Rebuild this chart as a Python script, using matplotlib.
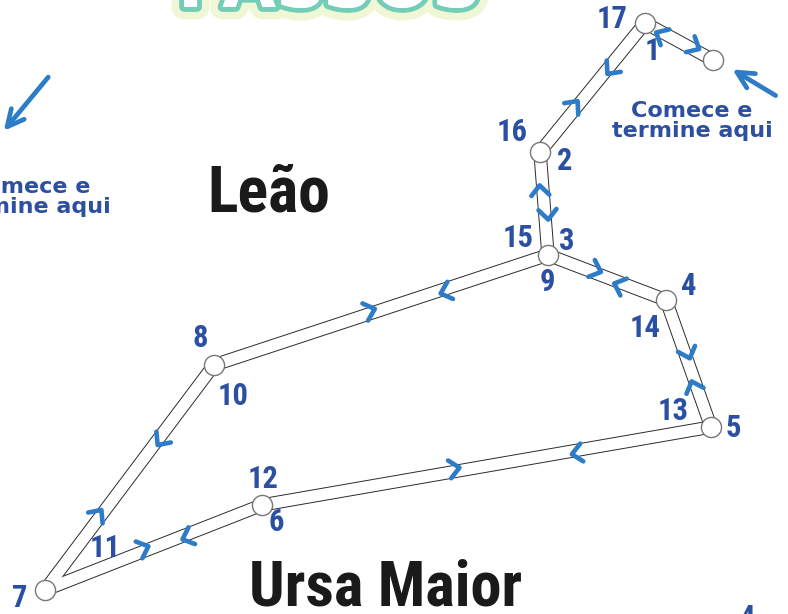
import matplotlib.pyplot as plt
import matplotlib.patheffects as pe
from matplotlib import font_manager
import numpy as np

# pontos da constelação (coordenadas em pixels da imagem, y para baixo)
nos_x = [713, 645, 540, 548, 666, 711, 262, 45, 214]
nos_y = [60, 23, 152, 255, 300, 427, 505, 590, 365]

# arestas do caminho: (origem, destino, posição seta ida, posição seta volta)
arestas = [(0, 1, 0.75, 0.29), (1, 2, 0.35, 0.65), (2, 3, 0.61, 0.37),
           (3, 4, 0.40, 0.61), (4, 5, 0.43, 0.67), (5, 6, 0.30, 0.57),
           (6, 7, 0.35, 0.54), (7, 8, 0.33, 0.67), (8, 3, 0.47, 0.69)]

# rótulos numéricos e posição
rotulos = ['17', '1', '16', '2', '15', '3', '9', '4', '14', '13', '5',
           '8', '10', '12', '6', '11', '7']
rot_x = [612, 652, 512, 565, 518, 567, 547, 689, 645, 673, 733,
         200, 233, 263, 276, 105, 20]
rot_y = [19, 51, 132, 161, 238, 241, 282, 286, 328, 411, 428,
         338, 396, 479, 522, 548, 598]

azul_num = '#2b4fa3'
azul_seta = '#2d7cc8'


def primeira_fonte(candidatas):
    for nome in candidatas:
        try:
            font_manager.findfont(font_manager.FontProperties(family=nome),
                                  fallback_to_default=False)
            return nome
        except ValueError:
            continue
    return 'DejaVu Sans'


estreita = primeira_fonte(['Liberation Sans Narrow', 'DejaVu Sans Condensed',
                           'Roboto Condensed', 'Open Sans Condensed',
                           'Noto Sans Condensed', 'Arial Narrow'])
tem_estreita = estreita != 'DejaVu Sans'
fonte_estreita = [estreita, 'DejaVu Sans']

fig = plt.figure(figsize=(7.88, 6.14), dpi=100)
ax = fig.add_axes([0, 0, 1, 1])
ax.set_xlim(0, 788)
ax.set_ylim(614, 0)
ax.axis('off')

# título cortado no topo
ax.text(330, 7, 'PASSOS', ha='center', va='baseline', fontsize=50,
        fontweight='bold', color='white',
        path_effects=[pe.withStroke(linewidth=18, foreground='#eef7d2', alpha=0.9),
                      pe.withStroke(linewidth=7, foreground='#74cdb6'),
                      pe.Normal()])

# linhas duplas
for a, b, _, _ in arestas:
    ax.plot([nos_x[a], nos_x[b]], [nos_y[a], nos_y[b]], color='#2a2a2a',
            lw=9.6, solid_capstyle='butt', zorder=2)
for a, b, _, _ in arestas:
    ax.plot([nos_x[a], nos_x[b]], [nos_y[a], nos_y[b]], color='white',
            lw=8.2, solid_capstyle='butt', zorder=3)


# setas (chevrons) indicando o sentido
def chevron(p, u):
    n = np.array([u[1], -u[0]])
    p = p + n * 3
    tip = p + u * 5
    a1 = p - u * 5 + n * 9
    a2 = p - u * 5 - n * 9
    ax.plot([a1[0], tip[0], a2[0]], [a1[1], tip[1], a2[1]], color=azul_seta,
            lw=3.3, solid_capstyle='round', solid_joinstyle='round', zorder=5)


for a, b, tf, tb in arestas:
    pa = np.array([nos_x[a], nos_y[a]], float)
    pb = np.array([nos_x[b], nos_y[b]], float)
    u = (pb - pa) / np.linalg.norm(pb - pa)
    chevron(pa + (pb - pa) * tf, u)
    chevron(pa + (pb - pa) * tb, -u)

# estrelas
ax.scatter(nos_x, nos_y, s=210, facecolor='white', edgecolor='#777777',
           linewidth=1, zorder=6)

# números
tam_num = 22 if tem_estreita else 18
for t, x, y in zip(rotulos, rot_x, rot_y):
    ax.text(x, y, t, ha='center', va='center', fontsize=tam_num,
            fontweight='bold', color=azul_num, family=fonte_estreita, zorder=7)

# nomes das constelações
ax.text(269, 194, 'Leão', ha='center', va='center',
        fontsize=46 if tem_estreita else 36,
        fontweight='bold', color='#1a1a1a', family=fonte_estreita)
ax.text(386, 589, 'Ursa Maior', ha='center', va='center',
        fontsize=45 if tem_estreita else 36,
        fontweight='bold', color='#1a1a1a', family=fonte_estreita)

# "Comece e termine aqui"
ax.text(692, 121, 'Comece e\ntermine aqui', ha='center', va='center',
        fontsize=16, fontweight='bold', color=azul_num, linespacing=1.05)
ax.text(30, 197, 'Comece e\ntermine aqui', ha='center', va='center',
        fontsize=16, fontweight='bold', color=azul_num, linespacing=1.05)

# setas grandes
ax.annotate('', xy=(2, 133), xytext=(50, 75),
            arrowprops=dict(arrowstyle='->', color=azul_seta, lw=3.4,
                            mutation_scale=30))
ax.annotate('', xy=(730, 68), xytext=(778, 97),
            arrowprops=dict(arrowstyle='->', color=azul_seta, lw=3.4,
                            mutation_scale=30))

# número cortado no canto inferior direito
ax.text(748, 603, '4', ha='center', va='top', fontsize=tam_num,
        fontweight='bold', color=azul_num, family=fonte_estreita)

fig.savefig('out.png', dpi=100)
